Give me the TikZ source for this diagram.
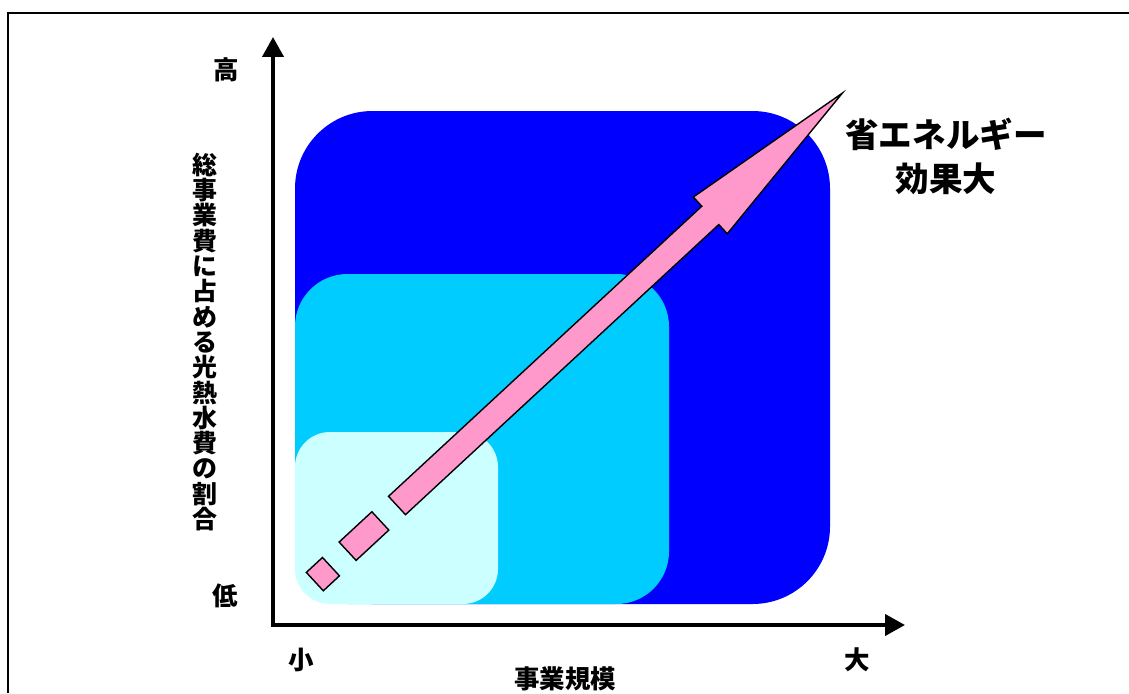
\documentclass[tikz,border=0pt]{standalone}
\usepackage{fontspec}
\newfontfamily\jpfont{Noto Sans CJK JP}
\usetikzlibrary{arrows.meta}
\definecolor{areablue}{RGB}{0,0,255}
\definecolor{areacyan}{RGB}{0,204,255}
\definecolor{arealight}{RGB}{204,255,255}
\definecolor{arrowpink}{RGB}{255,153,204}

\begin{document}
\begin{tikzpicture}[
    x=0.02cm, y=-0.02cm,
    frame/.style={line width=1.7pt, black},
    axis/.style={line width=2.3pt, line join=miter,
                {Triangle[length=0.4cm, width=0.42cm]}-{Triangle[length=0.4cm, width=0.42cm]}},
    pinkarrow/.style={fill=arrowpink, draw=black, line width=0.8pt, line join=miter},
    lbl/.style={font=\jpfont\bfseries\fontsize{14.5pt}{15pt}\selectfont, inner sep=0pt},
    vlbl/.style={font=\jpfont\bfseries\fontsize{14.2pt}{14.4pt}\selectfont, inner sep=0pt, align=center},
    title/.style={font=\jpfont\bfseries\fontsize{19.1pt}{25pt}\selectfont, inner sep=0pt, align=center}
]
\useasboundingbox (0,0) rectangle (1129,693);

% Outer frame (open to the right and bottom)
\draw[frame] (8,693) -- (8,13) -- (1129,13);

% Scale areas
\fill[areablue, rounded corners=1.55cm] (295,111) rectangle (830,604);
\fill[areacyan, rounded corners=1.05cm] (295,274) rectangle (669,604);
\fill[arealight, rounded corners=0.7cm] (295,432) rectangle (498,604);

% Axes
\coordinate (origin) at (273,625);
\coordinate (ytop) at (273,37);
\coordinate (xend) at (905,625);
\draw[axis] (ytop) -- (origin) -- (xend);

% Rising arrow
\begin{scope}[shift={(397,505.5)}, rotate=42.8]
  \draw[pinkarrow] (-112,-12.5) rectangle (-90,12.5);
  \draw[pinkarrow] (-67.3,-12.5) rectangle (-22.7,12.5);
  \draw[pinkarrow] (0,-12.5) -- (427,-12.5) -- (427,-25) -- (607,0)
                   -- (427,25) -- (427,12.5) -- (0,12.5) -- cycle;
\end{scope}

% Axis labels
\node[lbl] (high) at (226,70) {高};
\node[lbl] (low) at (225,596) {低};
\node[lbl] (small) at (301,660) {小};
\node[lbl] (large) at (857,660) {大};
\node[lbl] (xlabel) at (565,679) {事業規模};
\node[vlbl] (ylabel) at (205,342) {総\\事\\業\\費\\に\\占\\め\\る\\光\\熱\\水\\費\\の\\割\\合};

\node[title] (effect) at (946,156) {省エネルギー\\効果大};

\end{tikzpicture}
\end{document}
